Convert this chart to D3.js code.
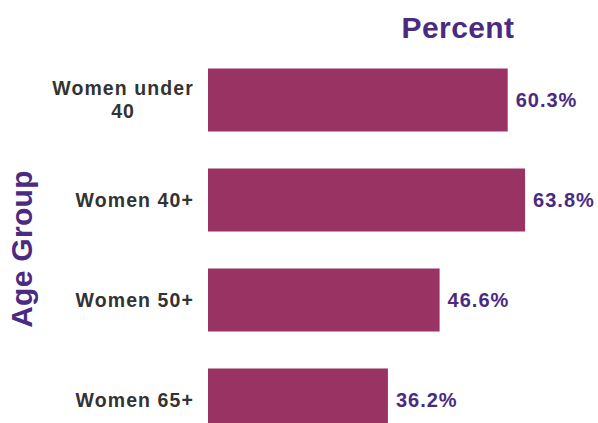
<!DOCTYPE html>
<html>
<head>
<meta charset="utf-8">
<script src="https://cdn.jsdelivr.net/npm/d3@7"></script>
<style>
  body { margin: 0; background: #fff; }
  text { font-family: "Liberation Sans", Arial, sans-serif; font-weight: bold; }
</style>
</head>
<body>
<svg id="chart"></svg>
<script>
const categories = [['Women under', '40'], ['Women 40+'], ['Women 50+'], ['Women 65+']]
const values = [60.3, 63.8, 46.6, 36.2]

const W = 598, H = 423
const margin = {top: 68, left: 208}

const svg = d3.select('#chart').attr('width', W).attr('height', H)

// 1% is about 5px in the reference
const x = d3.scaleLinear().domain([0, 100]).range([margin.left, margin.left + 497])
const y = d3.scaleBand().domain(d3.range(values.length))
  .range([margin.top - 18, margin.top - 18 + 400]).paddingInner(0.37).paddingOuter(0.185)

const g = svg.append('g')

g.selectAll('rect').data(values).join('rect')
  .attr('x', x(0))
  .attr('y', (d, i) => y(i))
  .attr('width', d => x(d) - x(0))
  .attr('height', y.bandwidth())
  .attr('fill', '#983363')

// value labels
g.selectAll('.val').data(values).join('text')
  .attr('class', 'val')
  .attr('x', d => x(d) + 8)
  .attr('y', (d, i) => y(i) + y.bandwidth() / 2)
  .attr('dy', '0.35em')
  .attr('fill', '#4b2a82')
  .style('font-size', '20px')
  .style('letter-spacing', '1px')
  .text(d => d.toFixed(1) + '%')

// category labels, multi-line ones centred on their widest line
const labelRight = 194
categories.forEach((lines, i) => {
  const t = g.append('text')
    .attr('fill', '#333333')
    .style('font-size', '19.5px')
    .style('letter-spacing', '1.1px')
  const cy = y(i) + y.bandwidth() / 2
  const lh = 23
  lines.forEach((l, j) => {
    t.append('tspan').attr('y', cy + (j - (lines.length - 1) / 2) * lh).attr('dy', '0.35em').text(l)
  })
  const spans = t.selectAll('tspan')
  const widest = d3.max(spans.nodes(), n => n.getComputedTextLength())
  spans.attr('x', labelRight - widest / 2).attr('text-anchor', 'middle')
})

svg.append('text')
  .attr('x', 458).attr('y', 38)
  .attr('text-anchor', 'middle')
  .attr('fill', '#4b2a82')
  .style('font-size', '30px')
  .style('letter-spacing', '0.4px')
  .text('Percent')

svg.append('text')
  .attr('transform', 'translate(32,249) rotate(-90)')
  .attr('text-anchor', 'middle')
  .attr('fill', '#4b2a82')
  .style('font-size', '30px')
  .style('letter-spacing', '0.3px')
  .text('Age Group')
</script>
</body>
</html>
